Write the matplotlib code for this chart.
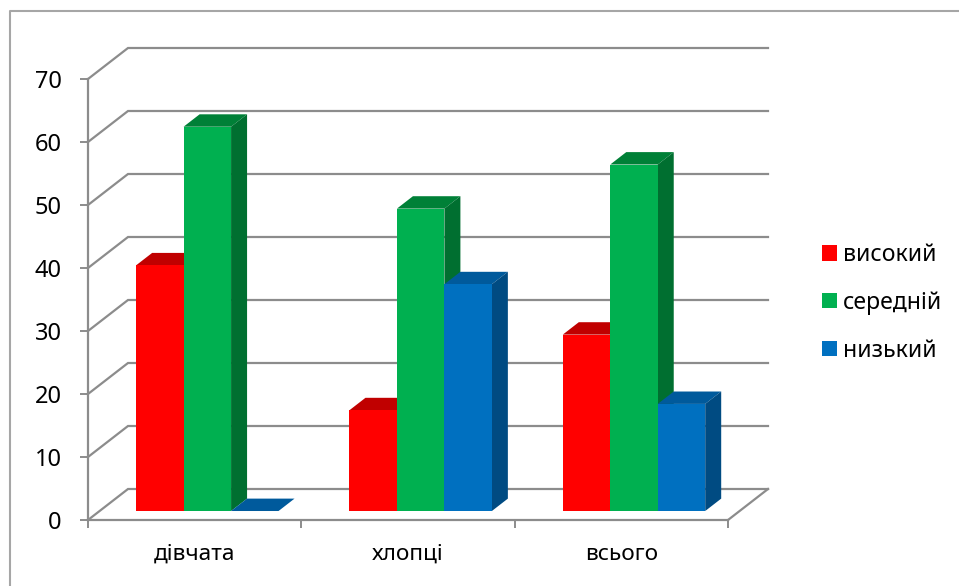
import matplotlib
matplotlib.use('Agg')
import matplotlib.pyplot as plt
from matplotlib.patches import Polygon, Rectangle

categories = ['дівчата', 'хлопці', 'всього']
vysokyi = [39, 16, 28]
serednii = [61, 48, 55]
nyzkyi = [0, 36, 17]
series_names = ['високий', 'середній', 'низький']
y_ticks = [0, 10, 20, 30, 40, 50, 60, 70]

W, H = 959, 586
# розміри осі в пікселях картинки
LEFT, RIGHT, BOTTOM, TOP = 88, 728, 520, 79
GRAY = '#8c8c8c'
colors = [('#ff0000', '#c00000', '#c00000'),
          ('#00b050', '#008037', '#006f30'),
          ('#0070c0', '#005a9c', '#004b82')]

plt.rcParams['font.family'] = ['Noto Sans', 'DejaVu Sans']

fig = plt.figure(figsize=(W / 100, H / 100), dpi=100)
ax = fig.add_axes([LEFT / W, 1 - BOTTOM / H, (RIGHT - LEFT) / W, (BOTTOM - TOP) / H])
ax.set_xlim(0, 3)
ax.set_ylim(0, 70)
ax.patch.set_alpha(0)

# глибина псевдо-3D в одиницях даних
DX = 40 / ((RIGHT - LEFT) / 3)
DY = 31 / ((BOTTOM - TOP) / 70)


def proj(x, y, depth):
    return (x + DX * depth, y + DY * depth)


# задня стінка і лінії сітки
for v in y_ticks:
    ax.plot([proj(0, v, 0)[0], proj(0, v, 1)[0], proj(3, v, 1)[0]],
            [proj(0, v, 0)[1], proj(0, v, 1)[1], proj(3, v, 1)[1]],
            color=GRAY, lw=1.6, clip_on=False, zorder=1, solid_joinstyle='miter')
ax.plot([proj(3, 0, 0)[0], proj(3, 0, 1)[0]], [proj(3, 0, 0)[1], proj(3, 0, 1)[1]],
        color=GRAY, lw=1.6, clip_on=False, zorder=1)

# стовпчики
BAR_W = 0.2225
D0, D1 = 0.29, 0.69
SHIFT = 0.005
all_series = [vysokyi, serednii, nyzkyi]
for i in range(len(categories)):
    start = i + 0.5 - 1.5 * BAR_W + SHIFT
    for j, vals in enumerate(all_series):
        x0 = start + j * BAR_W
        x1 = x0 + BAR_W
        v = vals[i]
        front, top, side = colors[j]
        z = 3 + i * 3 + j
        ax.add_patch(Polygon([proj(x0, v, D0), proj(x1, v, D0), proj(x1, v, D1), proj(x0, v, D1)],
                             fc=top, ec='none', clip_on=False, zorder=z))
        if v > 0:
            ax.add_patch(Polygon([proj(x1, 0, D0), proj(x1, v, D0), proj(x1, v, D1), proj(x1, 0, D1)],
                                 fc=side, ec='none', clip_on=False, zorder=z))
            ax.add_patch(Polygon([proj(x0, 0, D0), proj(x1, 0, D0), proj(x1, v, D0), proj(x0, v, D0)],
                                 fc=front, ec='none', clip_on=False, zorder=z))

for s in ['top', 'right']:
    ax.spines[s].set_visible(False)
for s in ['left', 'bottom']:
    ax.spines[s].set_color(GRAY)
    ax.spines[s].set_linewidth(1.6)

ax.set_yticks(y_ticks)
ax.set_xticks(range(len(categories) + 1))
ax.set_xticklabels([])
ax.set_xticks([i + 0.5 for i in range(len(categories))], minor=True)
ax.set_xticklabels(categories, minor=True)
ax.tick_params(axis='y', color=GRAY, width=1.4, length=6, pad=13, labelsize=17)
ax.tick_params(axis='x', which='major', color=GRAY, width=1.4, length=6)
ax.tick_params(axis='x', which='minor', length=0, pad=17, labelsize=16.3)

# легенда і рамка
handles = [Rectangle((0, 0), 1, 1, fc=c[0], ec='none') for c in colors]
fig.legend(handles, series_names, loc='upper left', bbox_to_anchor=(815 / W, 1 - 236 / H),
           frameon=False, fontsize=16.6, handlelength=0.65, handleheight=0.65,
           handletextpad=0.28, labelspacing=1.04, borderpad=0.3, borderaxespad=0)
fig.add_artist(plt.Line2D([9.5 / W, 9.5 / W, 1], [0, 1 - 11 / H, 1 - 11 / H],
                          color='#a6a6a6', lw=1.5, transform=fig.transFigure))

fig.savefig('out.png', dpi=100)
print('Saved out.png')
